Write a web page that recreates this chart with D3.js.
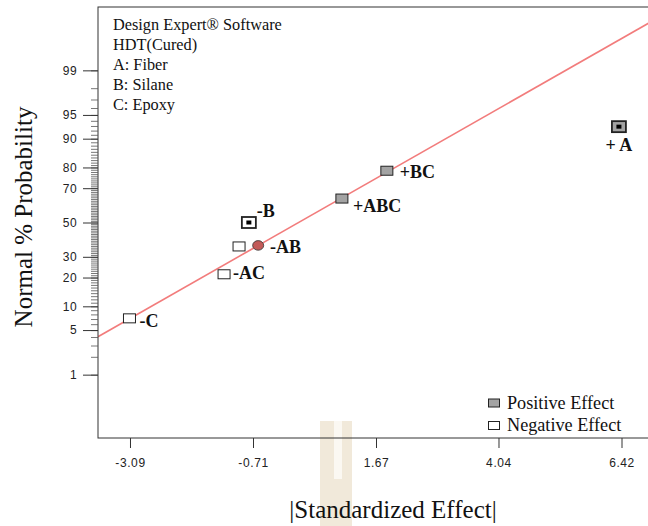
<!DOCTYPE html>
<html><head><meta charset="utf-8">
<script src="https://cdn.jsdelivr.net/npm/d3@7"></script>
<style>body{margin:0;background:#fff} svg{display:block}</style>
</head><body>
<svg id="chart" width="648" height="526"></svg>
<script>
// ---- data ----
const effectNames   = ["-C", "-AC", "-AB", "-B", "+ABC", "+BC", "+A"];
const effectValues  = [-3.10, -1.27, -0.98, -0.79, 1.01, 1.88, 6.37];
const effectProbs   = [7.14, 21.43, 35.71, 50.0, 64.29, 78.57, 92.86];
const effectSigns   = ["neg", "neg", "neg", "neg", "pos", "pos", "pos"];
const effectChosen  = [false, false, false, true, false, false, true];
const markerValues  = [-0.61];
const markerProbs   = [36.3];
const lineValues    = [-3.709, 7.039];
const lineProbs     = [4.04, 99.90];
const xTickValues   = [-3.09, -0.71, 1.67, 4.04, 6.42];
const yTickLabels   = [1, 5, 10, 20, 30, 50, 70, 80, 90, 95, 99];
const yMinorTicks   = d3.range(1, 100);
const infoLines     = ["Design Expert® Software", "HDT(Cured)", "A: Fiber", "B: Silane", "C: Epoxy"];
const legendLabels  = ["Positive Effect", "Negative Effect"];
const legendSigns   = ["pos", "neg"];
const xTitle = "|Standardized Effect|";
const yTitle = "Normal % Probability";

// ---- helpers ----
function probit(p) {
  const a=[-3.969683028665376e+01,2.209460984245205e+02,-2.759285104469687e+02,1.383577518672690e+02,-3.066479806614716e+01,2.506628277459239e+00];
  const b=[-5.447609879822406e+01,1.615858368580409e+02,-1.556989798598866e+02,6.680131188771972e+01,-1.328068155288572e+01];
  const c=[-7.784894002430293e-03,-3.223964580411365e-01,-2.400758277161838e+00,-2.549732539343734e+00,4.374664141464968e+00,2.938163982698783e+00];
  const d=[7.784695709041462e-03,3.224671290700398e-01,2.445134137142996e+00,3.754408661907416e+00];
  const pl=0.02425, ph=1-pl; let q,r;
  if (p<pl){q=Math.sqrt(-2*Math.log(p));return (((((c[0]*q+c[1])*q+c[2])*q+c[3])*q+c[4])*q+c[5])/((((d[0]*q+d[1])*q+d[2])*q+d[3])*q+1);}
  if (p<=ph){q=p-0.5;r=q*q;return (((((a[0]*r+a[1])*r+a[2])*r+a[3])*r+a[4])*r+a[5])*q/(((((b[0]*r+b[1])*r+b[2])*r+b[3])*r+b[4])*r+1);}
  q=Math.sqrt(-2*Math.log(1-p));return -(((((c[0]*q+c[1])*q+c[2])*q+c[3])*q+c[4])*q+c[5])/((((d[0]*q+d[1])*q+d[2])*q+d[3])*q+1);
}

const svg = d3.select("#chart");
const L = 98, T = 7, B = 438, R = 653.5;
const x = d3.scaleLinear().domain([-3.709, 7.039]).range([L, R]);
const yz = d3.scaleLinear().domain([-3.295, 3.295]).range([B, T]);
const y = p => yz(probit(p / 100));

// watermark (decorative)
svg.append("rect").attr("x", 320).attr("y", 421).attr("width", 32).attr("height", 105).attr("fill", "#f1e9da");
svg.append("rect").attr("x", 334).attr("y", 421).attr("width", 8).attr("height", 58).attr("fill", "#fbf8f2");

// clip
svg.append("clipPath").attr("id", "clip").append("rect")
  .attr("x", L).attr("y", T).attr("width", R - L).attr("height", B - T);

// fit line
svg.append("line")
  .attr("clip-path", "url(#clip)")
  .attr("x1", x(lineValues[0])).attr("y1", y(lineProbs[0]))
  .attr("x2", x(lineValues[1])).attr("y2", y(lineProbs[1]))
  .attr("stroke", "#f27c7c").attr("stroke-width", 1.6);

// frame
svg.append("rect").attr("x", L).attr("y", T).attr("width", R - L).attr("height", B - T)
  .attr("fill", "none").attr("stroke", "#333").attr("stroke-width", 1);

// y axis minor ticks
svg.append("g").attr("transform", `translate(${L},0)`)
  .call(d3.axisLeft(yz).tickValues(yMinorTicks.map(p => probit(p / 100))).tickSize(7).tickFormat(""))
  .call(g => g.select(".domain").remove())
  .call(g => g.selectAll("line").attr("stroke", "#555").attr("stroke-width", 0.8));

// y axis major ticks
svg.append("g").attr("transform", `translate(${L},0)`)
  .call(d3.axisLeft(yz).tickValues(yTickLabels.map(p => probit(p / 100))).tickSize(15).tickPadding(6)
    .tickFormat((d, i) => String(yTickLabels[i])))
  .call(g => g.select(".domain").remove())
  .call(g => g.selectAll("line").attr("stroke", "#333"))
  .call(g => g.selectAll("text").attr("font-family", "'Liberation Sans', Arial, sans-serif")
    .attr("font-size", 12).attr("fill", "#222").attr("letter-spacing", "0.4px"));

// x axis
svg.append("g").attr("transform", `translate(0,${B})`)
  .call(d3.axisBottom(x).tickValues(xTickValues).tickSize(10).tickPadding(10).tickFormat(d => d.toFixed(2)))
  .call(g => g.select(".domain").remove())
  .call(g => g.selectAll("line").attr("stroke", "#333"))
  .call(g => g.selectAll("text").attr("font-family", "'Liberation Sans', Arial, sans-serif")
    .attr("font-size", 12).attr("fill", "#222").attr("letter-spacing", "0.6px"));

// titles
svg.append("text").attr("x", 393).attr("y", 518).attr("text-anchor", "middle")
  .attr("font-family", "'Liberation Serif', 'Times New Roman', serif").attr("font-size", 25)
  .attr("fill", "#111").text(xTitle);
svg.append("text").attr("transform", "translate(32,217) rotate(-90)").attr("text-anchor", "middle")
  .attr("font-family", "'Liberation Serif', 'Times New Roman', serif").attr("font-size", 25)
  .attr("fill", "#111").text(yTitle);

// info text
svg.append("g").selectAll("text").data(infoLines).join("text")
  .attr("x", 113).attr("y", (d, i) => 29.5 + i * 20)
  .attr("font-family", "'Liberation Serif', 'Times New Roman', serif").attr("font-size", 16.3)
  .attr("fill", "#111").text(d => d);

// markers
const fillFor = s => s === "pos" ? "#a3a3a3" : "#ffffff";
const pts = effectNames.map((n, i) => ({ name: n, v: effectValues[i], p: effectProbs[i], s: effectSigns[i], c: effectChosen[i] }));
const gm = svg.append("g");
pts.forEach(d => {
  const cx = x(d.v), cy = y(d.p);
  const w = d.c ? 14 : 12, h = d.c ? 11 : 9;
  gm.append("rect").attr("x", cx - w / 2).attr("y", cy - h / 2).attr("width", w).attr("height", h)
    .attr("fill", fillFor(d.s)).attr("stroke", "#222").attr("stroke-width", d.c ? 1.8 : 1);
  if (d.c) gm.append("rect").attr("x", cx - 2.5).attr("y", cy - 2).attr("width", 5).attr("height", 4).attr("fill", "#000");
});
// highlight circle
markerValues.forEach((v, i) => {
  gm.append("ellipse").attr("cx", x(v)).attr("cy", y(markerProbs[i])).attr("rx", 5.5).attr("ry", 4.8)
    .attr("fill", "#c25a58").attr("stroke", "#333").attr("stroke-width", 0.8);
});

// point labels (offsets relative to marker centre)
const labelOffset = {
  "-C": [10, 9, "start"], "-AC": [9, 5, "start"], "-AB": [31, 7, "start"], "-B": [8, -6, "start"],
  "+ABC": [11, 13, "start"], "+BC": [13, 7, "start"], "+A": [0, 24, "middle"]
};
pts.forEach(d => {
  const o = labelOffset[d.name];
  gm.append("text").attr("x", x(d.v) + o[0]).attr("y", y(d.p) + o[1]).attr("text-anchor", o[2])
    .attr("font-family", "'Liberation Serif', 'Times New Roman', serif").attr("font-size", 18)
    .attr("font-weight", "bold").attr("fill", "#111")
    .text(d.name === "+A" ? "+ A" : d.name);
});

// legend
const lg = svg.append("g");
legendLabels.forEach((t, i) => {
  const cy = 403 + i * 22.5;
  lg.append("rect").attr("x", 488.5).attr("y", cy - 4).attr("width", 11).attr("height", 8)
    .attr("fill", fillFor(legendSigns[i])).attr("stroke", "#222").attr("stroke-width", 1);
  lg.append("text").attr("x", 507).attr("y", cy + 5.5)
    .attr("font-family", "'Liberation Serif', 'Times New Roman', serif").attr("font-size", 18.2)
    .attr("fill", "#111").text(t);
});
</script>
</body></html>
